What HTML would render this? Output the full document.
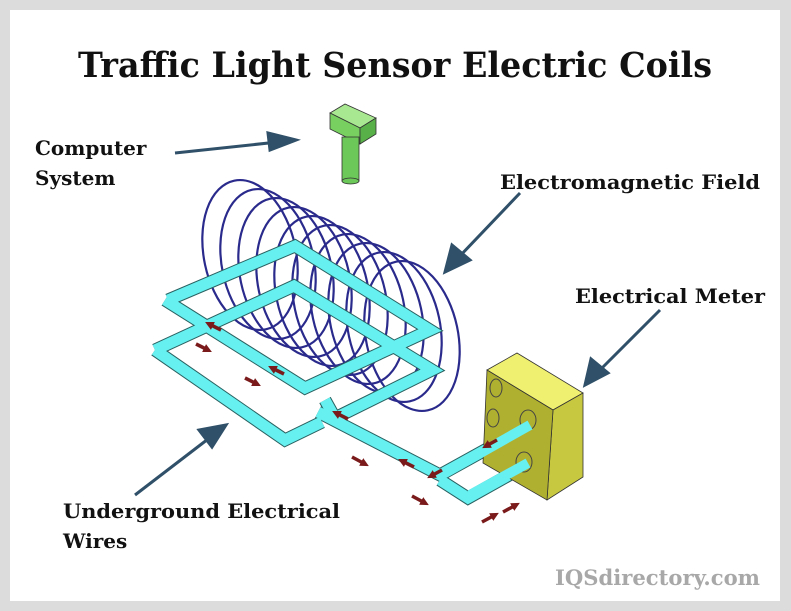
<!DOCTYPE html>
<html><head><meta charset="utf-8"><style>
html,body{margin:0;padding:0;background:#dcdcdc;width:791px;height:611px;overflow:hidden}
svg{display:block}
text{font-family:"DejaVu Serif","Liberation Serif",serif;font-weight:bold;fill:#111}
</style></head><body>
<svg width="791" height="611" viewBox="0 0 791 611" xmlns="http://www.w3.org/2000/svg">
<defs>
<marker id="r" viewBox="0 0 10 10" refX="5" refY="5" markerWidth="2.5" markerHeight="2.5" orient="auto"><path d="M0,0 L10,5 L0,10 z" fill="#7a1a1a"/></marker>
</defs>
<rect x="0" y="0" width="791" height="611" fill="#dcdcdc"/>
<rect x="10" y="10" width="770" height="591" fill="#fff"/>
<text x="395" y="77" text-anchor="middle" font-size="35" textLength="634" lengthAdjust="spacingAndGlyphs">Traffic Light Sensor Electric Coils</text>

<!-- computer -->
<polygon points="330,113 345,104 376,118 360,128" fill="#a8e890" stroke="#333" stroke-width="0.8"/>
<polygon points="330,113 360,128 360,144 330,129" fill="#78d060" stroke="#333" stroke-width="0.8"/>
<polygon points="360,128 376,118 376,134 360,144" fill="#58b048" stroke="#333" stroke-width="0.8"/>
<rect x="342" y="137" width="17" height="44" fill="#6cc858" stroke="#333" stroke-width="0.8"/>
<ellipse cx="350.5" cy="181" rx="8.5" ry="3" fill="#6cc858" stroke="#333" stroke-width="0.8"/>

<!-- coils -->
<g fill="none" stroke="#2a2a8c" stroke-width="2.2">
<ellipse cx="250" cy="255" rx="46" ry="76" transform="rotate(-12 250 255)"/>
<ellipse cx="268" cy="264" rx="46" ry="76" transform="rotate(-12 268 264)"/>
<ellipse cx="286" cy="273" rx="46" ry="76" transform="rotate(-12 286 273)"/>
<ellipse cx="304" cy="282" rx="46" ry="76" transform="rotate(-12 304 282)"/>
<ellipse cx="322" cy="291" rx="46" ry="76" transform="rotate(-12 322 291)"/>
<ellipse cx="340" cy="300" rx="46" ry="76" transform="rotate(-12 340 300)"/>
<ellipse cx="358" cy="309" rx="46" ry="76" transform="rotate(-12 358 309)"/>
<ellipse cx="376" cy="318" rx="46" ry="76" transform="rotate(-12 376 318)"/>
<ellipse cx="394" cy="327" rx="46" ry="76" transform="rotate(-12 394 327)"/>
<ellipse cx="412" cy="336" rx="46" ry="76" transform="rotate(-12 412 336)"/>
</g>

<!-- wires -->
<g fill="none" stroke="#2a6060" stroke-width="13" stroke-linejoin="miter">
<polyline points="168,300 295,246 430,330 305,388 165,300"/>
<polyline points="155,350 294,286 432,370 335,418 325,400"/>
<polyline points="155,350 285,440 322,422"/>
<polyline points="318,412 440,475 525,428"/>
<polyline points="440,480 468,498 527,465"/>
</g>
<g fill="none" stroke="#66f0f0" stroke-width="11" stroke-linejoin="miter">
<polyline points="168,300 295,246 430,330 305,388 165,300"/>
<polyline points="155,350 294,286 432,370 335,418 325,400"/>
<polyline points="155,350 285,440 322,422"/>
<polyline points="318,412 440,475 525,428"/>
<polyline points="440,480 468,498 527,465"/>
</g>

<!-- meter -->
<polygon points="487,370 517,353 583,393 553,410" fill="#f0f070" stroke="#333" stroke-width="0.8"/>
<polygon points="553,410 583,393 583,477 547,500" fill="#c8c840" stroke="#333" stroke-width="0.8"/>
<polygon points="487,370 553,410 547,500 483,463" fill="#b0b030" stroke="#333" stroke-width="0.8"/>
<g fill="none" stroke="#444" stroke-width="1">
<ellipse cx="496" cy="388" rx="6" ry="9"/><ellipse cx="493" cy="418" rx="6" ry="9"/>
<ellipse cx="528" cy="420" rx="8" ry="10"/><ellipse cx="524" cy="462" rx="8" ry="10"/>
</g>
<g fill="none" stroke="#66f0f0" stroke-width="10">
<line x1="445" y1="473" x2="530" y2="425"/><line x1="470" y1="495" x2="528" y2="463"/>
</g>

<!-- small red arrows -->
<g stroke="#7a1a1a" stroke-width="3.5" marker-end="url(#r)">
<line x1="196" y1="344" x2="208" y2="350"/><line x1="245" y1="378" x2="257" y2="384"/>
<line x1="352" y1="457" x2="365" y2="464"/><line x1="412" y1="496" x2="425" y2="503"/>
<line x1="482" y1="522" x2="495" y2="515"/><line x1="503" y1="512" x2="516" y2="505"/>
<line x1="221" y1="330" x2="209" y2="324"/><line x1="284" y1="374" x2="272" y2="368"/>
<line x1="348" y1="419" x2="336" y2="413"/><line x1="414" y1="467" x2="402" y2="461"/>
<line x1="442" y1="470" x2="431" y2="476"/><line x1="497" y1="440" x2="486" y2="446"/>
</g>

<!-- pointer arrows -->
<g stroke="#2f5068" stroke-width="3" fill="#2f5068">
<line x1="175" y1="153" x2="278" y2="142"/><polygon points="296,140 268,133 270,150"/>
<line x1="520" y1="193" x2="458" y2="258"/><polygon points="445,272 452,245 470,260"/>
<line x1="660" y1="310" x2="598" y2="372"/><polygon points="585,385 591,359 608,373"/>
<line x1="135" y1="495" x2="212" y2="436"/><polygon points="226,425 199,430 212,447"/>
</g>

<!-- labels -->
<g font-size="20">
<text x="35" y="155">Computer</text>
<text x="35" y="185">System</text>
<text x="500" y="189" textLength="260" lengthAdjust="spacingAndGlyphs">Electromagnetic Field</text>
<text x="575" y="303" textLength="190" lengthAdjust="spacingAndGlyphs">Electrical Meter</text>
<text x="63" y="518" textLength="277" lengthAdjust="spacingAndGlyphs">Underground Electrical</text>
<text x="63" y="548">Wires</text>
</g>
<text x="555" y="585" font-size="21" style="fill:#a8a8a8" textLength="205" lengthAdjust="spacingAndGlyphs">IQSdirectory.com</text>
</svg>
</body></html>
